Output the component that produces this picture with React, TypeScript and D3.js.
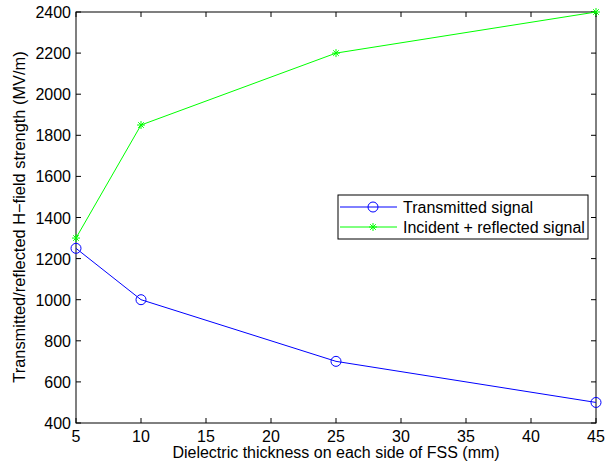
import React from "react";
import * as d3 from "d3";

const xValues = [5, 10, 25, 45];
const transmitted = [1250, 1000, 700, 500];
const incidentReflected = [1300, 1850, 2200, 2400];
const xTicks = [5, 10, 15, 20, 25, 30, 35, 40, 45];
const yTicks = [400, 600, 800, 1000, 1200, 1400, 1600, 1800, 2000, 2200, 2400];
const seriesNames = ["Transmitted signal", "Incident + reflected signal"];

const W = 606, H = 469;
const L = 76, R = 596, T = 12, B = 423;
const font = "Liberation Sans, Arial, Helvetica, sans-serif";
const FS = 16;

function Star({ cx, cy, s, color }: { cx: number; cy: number; s: number; color: string }) {
  const d = s * 0.7;
  return (
    <g stroke={color} strokeWidth={1}>
      <line x1={cx - s} y1={cy} x2={cx + s} y2={cy} />
      <line x1={cx} y1={cy - s} x2={cx} y2={cy + s} />
      <line x1={cx - d} y1={cy - d} x2={cx + d} y2={cy + d} />
      <line x1={cx - d} y1={cy + d} x2={cx + d} y2={cy - d} />
    </g>
  );
}

export default function App() {
  const x = d3.scaleLinear().domain([5, 45]).range([L, R]);
  const y = d3.scaleLinear().domain([400, 2400]).range([B, T]);
  const line = d3.line<number>().x((_, i) => x(xValues[i])).y((v) => y(v));
  const blue = "#0000ff", green = "#00ff00";
  const tl = 5;
  const lx = 338, ly = 195, lw = 250, lh = 44;
  return (
    <svg width={W} height={H} style={{ position: "absolute", left: 0, top: 0, background: "#fff" }} fontFamily={font}>
      <rect x={0} y={0} width={W} height={H} fill="#fff" />
      {xTicks.map((t) => (
        <g key={"x" + t}>
          <line x1={x(t)} x2={x(t)} y1={B} y2={B - tl} stroke="#000" />
          <line x1={x(t)} x2={x(t)} y1={T} y2={T + tl} stroke="#000" />
          <text x={x(t)} y={B + 19} textAnchor="middle" fontSize={FS}>{t}</text>
        </g>
      ))}
      {yTicks.map((t) => (
        <g key={"y" + t}>
          <line x1={L} x2={L + tl} y1={y(t)} y2={y(t)} stroke="#000" />
          <line x1={R} x2={R - tl} y1={y(t)} y2={y(t)} stroke="#000" />
          <text x={L - 5} y={y(t) + 6} textAnchor="end" fontSize={FS}>{t}</text>
        </g>
      ))}
      <rect x={L} y={T} width={R - L} height={B - T} fill="none" stroke="#000" strokeWidth={1} />
      <path d={line(transmitted) || ""} fill="none" stroke={blue} strokeWidth={1} />
      <path d={line(incidentReflected) || ""} fill="none" stroke={green} strokeWidth={1} />
      {transmitted.map((v, i) => (
        <circle key={"c" + i} cx={x(xValues[i])} cy={y(v)} r={5} fill="none" stroke={blue} strokeWidth={1} />
      ))}
      {incidentReflected.map((v, i) => (
        <Star key={"s" + i} cx={x(xValues[i])} cy={y(v)} s={4} color={green} />
      ))}
      <text x={(L + R) / 2} y={458} textAnchor="middle" fontSize={FS}>Dielectric thickness on each side of FSS (mm)</text>
      <text transform={`translate(25,217) rotate(-90)`} textAnchor="middle" fontSize={16.4}>
        Transmitted/reflected H−field strength (MV/m)
      </text>
      <rect x={lx} y={ly} width={lw} height={lh} fill="#fff" stroke="#000" strokeWidth={1} />
      <line x1={lx + 2} x2={lx + 59} y1={207} y2={207} stroke={blue} />
      <circle cx={373} cy={207} r={5} fill="none" stroke={blue} />
      <text x={403} y={212.5} fontSize={FS}>{seriesNames[0]}</text>
      <line x1={lx + 2} x2={lx + 59} y1={227} y2={227} stroke={green} />
      <Star cx={373} cy={227} s={4} color={green} />
      <text x={403} y={232.5} fontSize={FS}>{seriesNames[1]}</text>
    </svg>
  );
}
